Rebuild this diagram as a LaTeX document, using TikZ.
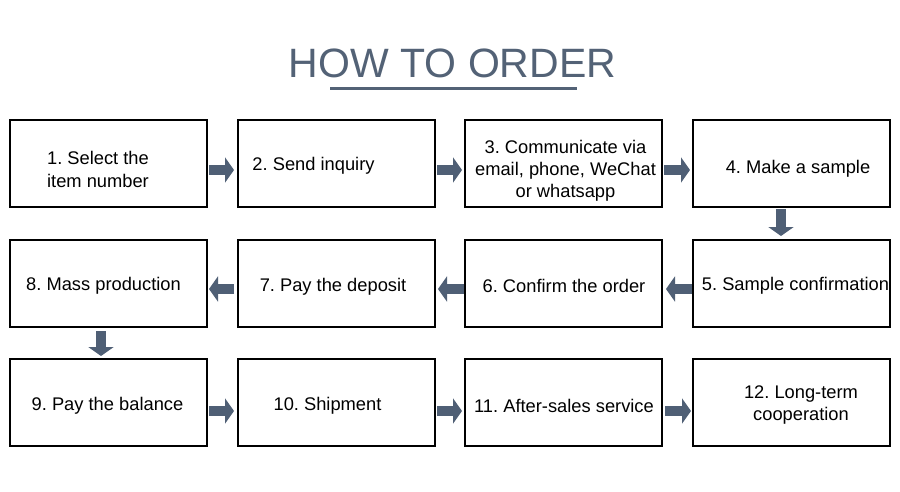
\documentclass[tikz,border=0pt]{standalone}
\usepackage{fontspec}
\setmainfont{Liberation Sans}
\usetikzlibrary{arrows.meta}
\definecolor{slate}{HTML}{4F5F75}
\definecolor{titlec}{HTML}{536276}
\frenchspacing
\begin{document}
\begin{tikzpicture}[x=1pt,y=-1pt,
  box/.style={draw=black,line width=2pt,minimum width=197pt,minimum height=87pt,inner sep=0pt},
  lbl/.style={font=\fontsize{18.3}{22}\selectfont,inner sep=0pt,anchor=base},
  blk/.style={draw=slate,line width=10pt,-{Triangle[width=25pt,length=9pt]}},
]
\useasboundingbox (0,0) rectangle (900,491);
\fill[white] (0,0) rectangle (900,491);

% title
\node[font=\fontsize{41}{41}\selectfont,text=titlec,anchor=base,inner sep=0pt] (title) at (452.5,77) {HOW TO ORDER};
\coordinate (ul1) at (330,88.7);
\coordinate (ul2) at (577,88.7);
\draw[titlec,line width=3.5pt] (ul1) -- (ul2);

% boxes
\node[box] (b1) at (108.5,163.5) {};
\node[box] (b2) at (336.5,163.5) {};
\node[box] (b3) at (563.5,163.5) {};
\node[box] (b4) at (791.5,163.5) {};
\node[box] (b5) at (791.5,283.5) {};
\node[box] (b6) at (563.5,283.5) {};
\node[box] (b7) at (336.5,283.5) {};
\node[box] (b8) at (108.5,283.5) {};
\node[box] (b9) at (108.5,402.5) {};
\node[box] (b10) at (336.5,402.5) {};
\node[box] (b11) at (563.5,402.5) {};
\node[box] (b12) at (791.5,402.5) {};

% texts
\node[lbl] (t1a) at (98,164) {1. Select the};
\node[lbl] (t1b) at (98,187) {item number};
\node[lbl] (t2) at (313.5,170) {2. Send inquiry};
\node[lbl] (t3a) at (565.5,153) {3. Communicate via};
\node[lbl] (t3b) at (565.5,175) {email, phone, WeChat};
\node[lbl] (t3c) at (565.5,197) {or whatsapp};
\node[lbl] (t4) at (798,173) {4. Make a sample};
\node[lbl] (t5) at (795.5,290) {5. Sample confirmation};
\node[lbl] (t6) at (564,292) {6. Confirm the order};
\node[lbl] (t7) at (333,291) {7. Pay the deposit};
\node[lbl] (t8) at (103.5,290) {8. Mass production};
\node[lbl] (t9) at (107.5,410) {9. Pay the balance};
\node[lbl] (t10) at (327.5,410) {10. Shipment};
\node[lbl] (t11) at (564,412) {11. After-sales service};
\node[lbl] (t12a) at (801,398) {12. Long-term};
\node[lbl] (t12b) at (801,420) {cooperation};

% arrows row 1
\draw[blk] ([xshift=1pt]b1.east |- 0,170) -- ([xshift=-3pt]b2.west |- 0,170);
\draw[blk] ([xshift=1pt]b2.east |- 0,170) -- ([xshift=-2pt]b3.west |- 0,170);
\draw[blk] ([xshift=1pt]b3.east |- 0,170) -- ([xshift=-2pt]b4.west |- 0,170);
% down 4 -> 5
\draw[blk] ([xshift=-10.5pt,yshift=-1pt]b4.south) -- ([xshift=-10.5pt,yshift=3pt]b5.north);
% arrows row 2 (leftwards)
\draw[blk] (b5.west |- 0,289) -- ([xshift=3pt]b6.east |- 0,289);
\draw[blk] (b6.west |- 0,289) -- ([xshift=2pt]b7.east |- 0,289);
\draw[blk] ([xshift=-3pt]b7.west |- 0,289) -- ([xshift=1pt]b8.east |- 0,289);
% down 8 -> 9
\draw[blk] ([xshift=-7.5pt,yshift=-3pt]b8.south) -- ([xshift=-7.5pt,yshift=2pt]b9.north);
% arrows row 3
\draw[blk] ([xshift=1pt]b9.east |- 0,411) -- ([xshift=-3pt]b10.west |- 0,411);
\draw[blk] ([xshift=1pt]b10.east |- 0,411) -- ([xshift=-2pt]b11.west |- 0,411);
\draw[blk] ([xshift=2pt]b11.east |- 0,411) -- ([xshift=-1pt]b12.west |- 0,411);
\end{tikzpicture}
\end{document}
